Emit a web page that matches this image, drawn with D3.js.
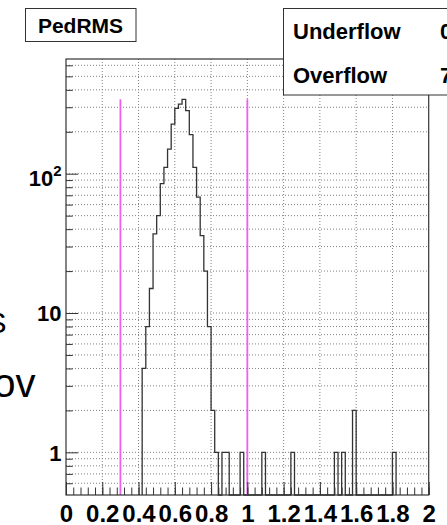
<!DOCTYPE html>
<html>
<head>
<meta charset="utf-8">
<script src="https://cdn.jsdelivr.net/npm/d3@7"></script>
<style>
body { margin: 0; background: #fff; }
svg { display: block; font-family: "Liberation Sans", Arial, Helvetica, sans-serif; }
</style>
</head>
<body>
<script>
// PedRMS histogram, bins of width 0.02 (empty bins left out)
var binLow = [0.42, 0.44, 0.46, 0.48, 0.50, 0.52, 0.54, 0.56, 0.58, 0.60,
              0.62, 0.64, 0.66, 0.68, 0.70, 0.72, 0.74, 0.76, 0.78, 0.80,
              0.82, 0.86, 0.88, 0.96, 1.08, 1.24, 1.48, 1.52, 1.58, 1.80];
var binCount = [4, 8, 15, 37, 50, 85, 111, 150, 227, 294,
                316, 342, 284, 191, 111, 68, 36, 20, 8, 2,
                1, 1, 1, 1, 1, 1, 1, 1, 2, 1];
var binWidth = 0.02;

// magenta cut lines
var cutLines = [0.3, 1.0];

// axis ranges and labels
var xRange = [0, 2];
var yRange = [0.494, 666];
var yMajor = [1, 10, 100];
var yMajorLabel = ["1", "10", "10|2"];

// stats box
var statNames = ["Underflow", "Overflow"];
var statValues = ["0", "7"];

var W = 447, H = 525;
var frame = {left: 66, right: 428.7, top: 59, bottom: 495};

var svg = d3.select("body").append("svg")
    .attr("width", W)
    .attr("height", H);

svg.append("rect").attr("width", W).attr("height", H).attr("fill", "#fff");

var x = d3.scaleLinear().domain(xRange).range([frame.left, frame.right]);
var y = d3.scaleLog().domain(yRange).range([frame.bottom, frame.top]);

// dotted grid
var gridY = y.ticks().filter(function(d) { return d > 0.55 && d < yRange[1]; });
svg.append("g").selectAll("line").data(gridY).join("line")
    .attr("x1", frame.left).attr("x2", frame.right)
    .attr("y1", function(d) { return y(d); })
    .attr("y2", function(d) { return y(d); })
    .attr("stroke", "#808080")
    .attr("stroke-dasharray", "1,2");

var xMajor = x.ticks(10);
svg.append("g").selectAll("line")
    .data(xMajor.filter(function(d) { return d > xRange[0] && d < xRange[1]; }))
    .join("line")
    .attr("x1", function(d) { return x(d); })
    .attr("x2", function(d) { return x(d); })
    .attr("y1", frame.top).attr("y2", frame.bottom)
    .attr("stroke", "#808080")
    .attr("stroke-dasharray", "1,2");

// histogram outline
var base = y(yRange[0]);
var pts = [];
binLow.forEach(function(lo, i) {
    var hi = lo + binWidth;
    var prevHi = i > 0 ? binLow[i - 1] + binWidth : null;
    if (prevHi === null || Math.abs(prevHi - lo) > 1e-6) {
        if (prevHi !== null) pts.push([x(prevHi), base]);
        pts.push([x(lo), base]);
    }
    pts.push([x(lo), y(binCount[i])], [x(hi), y(binCount[i])]);
});
pts.push([x(binLow[binLow.length - 1] + binWidth), base]);

svg.append("path")
    .attr("d", d3.line()(pts))
    .attr("fill", "none")
    .attr("stroke", "#333")
    .attr("stroke-width", 1.3);

// cut lines up to histogram maximum
var hMax = d3.max(binCount);
svg.append("g").selectAll("line").data(cutLines).join("line")
    .attr("x1", function(d) { return x(d); })
    .attr("x2", function(d) { return x(d); })
    .attr("y1", y(hMax)).attr("y2", frame.bottom)
    .attr("stroke", "#f060f0")
    .attr("stroke-width", 1.8);

// x axis
var xAxis = svg.append("g")
    .attr("transform", "translate(0," + frame.bottom + ")")
    .call(d3.axisBottom(x).tickValues(xMajor).tickSize(-13).tickFormat(d3.format("~g")));
var xMinor = d3.range(0, 51).map(function(i) { return i * 0.04; });
var xAxisMinor = svg.append("g")
    .attr("transform", "translate(0," + frame.bottom + ")")
    .call(d3.axisBottom(x).tickValues(xMinor).tickSize(-7.5).tickFormat(""));

// y axis
var yAxis = svg.append("g")
    .attr("transform", "translate(" + frame.left + ",0)")
    .call(d3.axisLeft(y).tickValues(yMajor).tickSize(-12)
        .tickFormat(function(d, i) { return yMajorLabel[i]; }));
var yMinor = gridY.filter(function(d) { return yMajor.indexOf(d) < 0; });
var yAxisMinor = svg.append("g")
    .attr("transform", "translate(" + frame.left + ",0)")
    .call(d3.axisLeft(y).tickValues(yMinor).tickSize(-6.7).tickFormat(""));

[xAxis, xAxisMinor, yAxis, yAxisMinor].forEach(function(g) {
    g.select(".domain").remove();
    g.attr("font-family", null).attr("font-size", null);
    g.selectAll(".tick line").attr("stroke", "#333");
});

xAxis.selectAll(".tick text")
    .attr("y", 27).attr("dy", 0)
    .attr("font-size", 24).attr("font-weight", "bold")
    .attr("fill", "#000");

yAxis.selectAll(".tick text")
    .attr("x", -4.5).attr("dy", "0.36em")
    .attr("font-size", 22).attr("font-weight", "bold")
    .attr("fill", "#000")
    .each(function(d, i) {
        var lab = yMajorLabel[i];
        if (lab.indexOf("|") < 0) return;
        var parts = lab.split("|");
        var t = d3.select(this).text("").attr("dy", "0.52em");
        t.append("tspan").text(parts[0]);
        t.append("tspan").text(parts[1])
            .attr("font-size", 15).attr("dy", -9.5);
    });

// frame
svg.append("rect")
    .attr("x", frame.left).attr("y", frame.top)
    .attr("width", frame.right - frame.left)
    .attr("height", frame.bottom - frame.top)
    .attr("fill", "none")
    .attr("stroke", "#333")
    .attr("stroke-width", 1.2);

// cut-off pieces of text at the left edge
svg.append("text").attr("x", 6.5).attr("y", 333.3)
    .attr("text-anchor", "end").attr("font-size", 30).text("S");
svg.append("text").attr("x", 35.5).attr("y", 396.7)
    .attr("text-anchor", "end").attr("font-size", 40).text("ov");

// title box
svg.append("rect")
    .attr("x", 25.5).attr("y", 8.5).attr("width", 110.5).attr("height", 33)
    .attr("fill", "#fff").attr("stroke", "#333");
svg.append("text")
    .attr("x", 80.5).attr("y", 33.3)
    .attr("text-anchor", "middle")
    .attr("font-size", 21).attr("font-weight", "bold")
    .text("PedRMS");

// stats box
svg.append("rect")
    .attr("x", 283.5).attr("y", 8.5).attr("width", 200).attr("height", 86.5)
    .attr("fill", "#fff").attr("stroke", "#333");
var statY = [39.3, 82.7];
statNames.forEach(function(name, i) {
    svg.append("text").attr("x", 293).attr("y", statY[i])
        .attr("font-size", 22).attr("font-weight", "bold").text(name);
    svg.append("text").attr("x", 440).attr("y", statY[i])
        .attr("font-size", 22).attr("font-weight", "bold").text(statValues[i]);
});
</script>
</body>
</html>
